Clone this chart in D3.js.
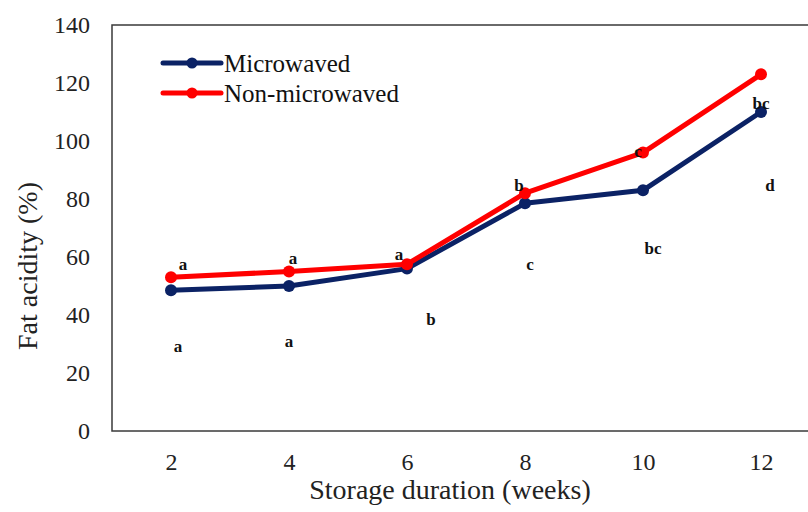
<!DOCTYPE html>
<html lang="en">
<head>
  <meta charset="UTF-8">
  <title>Fat acidity</title>
  <script src="https://d3js.org/d3.v7.min.js"></script>
  <style>
    body { margin: 0; background: #fff; }
    svg text { font-family: "Liberation Serif", "Times New Roman", Times, "DejaVu Serif", serif; }
  </style>
</head>
<body>
<div id="chart"></div>
<script>
const width = 808, height = 512;

const weeks = ["2", "4", "6", "8", "10", "12"];
const microwaved = [48.5, 50, 56, 78.5, 83, 110];
const nonMicrowaved = [53, 55, 57.5, 82, 96, 123];
const yTicks = [0, 20, 40, 60, 80, 100, 120, 140];

// significance letters and where they sit (in data units)
const lettersMicro = ["a", "a", "b", "c", "bc", "d"];
const lettersMicroY = [29, 31, 38.5, 57.5, 63, 84.5];
const lettersNon = ["a", "a", "a", "b", "c", "bc"];
const lettersNonY = [57.5, 59.3, 60.7, 84.5, 96.5, 113];

const series = [
  { name: "Microwaved", values: microwaved, color: "#0b2265" },
  { name: "Non-microwaved", values: nonMicrowaved, color: "#ff0000" }
];

const serif = '"Liberation Serif", "Times New Roman", Times, "DejaVu Serif", serif';
const margin = { top: 25, left: 112, bottom: 81 };
const plotRight = 820;

const svg = d3.select("#chart")
  .append("svg")
  .attr("width", width)
  .attr("height", height)
  .attr("font-family", serif);

const x = d3.scalePoint()
  .domain(weeks)
  .range([margin.left, plotRight])
  .padding(0.5);

const y = d3.scaleLinear()
  .domain([0, 140])
  .range([height - margin.bottom, margin.top]);

// plot frame
svg.append("rect")
  .attr("x", margin.left)
  .attr("y", margin.top)
  .attr("width", plotRight - margin.left)
  .attr("height", y(0) - margin.top)
  .attr("fill", "none")
  .attr("stroke", "#3a3a3a")
  .attr("stroke-width", 1.5);

// axes
const yAxis = svg.append("g")
  .attr("transform", `translate(${margin.left},0)`)
  .call(d3.axisLeft(y).tickValues(yTicks).tickSize(0).tickPadding(22));
yAxis.select(".domain").remove();
yAxis.attr("font-family", serif).attr("font-size", 24);
yAxis.selectAll("text").attr("fill", "#222");

const xAxis = svg.append("g")
  .attr("transform", `translate(0,${y(0)})`)
  .call(d3.axisBottom(x).tickSize(0).tickPadding(22));
xAxis.select(".domain").remove();
xAxis.attr("font-family", serif).attr("font-size", 24);
xAxis.selectAll("text").attr("fill", "#222");

// axis titles
svg.append("text")
  .attr("x", 450)
  .attr("y", 499)
  .attr("text-anchor", "middle")
  .attr("font-size", 28)
  .attr("fill", "#222")
  .text("Storage duration (weeks)");

svg.append("text")
  .attr("transform", "translate(37,266) rotate(-90)")
  .attr("text-anchor", "middle")
  .attr("font-size", 28)
  .attr("fill", "#222")
  .text("Fat acidity (%)");

// lines
const line = d3.line()
  .x((d, i) => x(weeks[i]))
  .y(d => y(d));

series.forEach(s => {
  svg.append("path")
    .datum(s.values)
    .attr("fill", "none")
    .attr("stroke", s.color)
    .attr("stroke-width", 5)
    .attr("stroke-linejoin", "round")
    .attr("d", line);

  svg.selectAll(null)
    .data(s.values)
    .enter()
    .append("circle")
    .attr("cx", (d, i) => x(weeks[i]))
    .attr("cy", d => y(d))
    .attr("r", 6)
    .attr("fill", s.color);
});

// letters
const dxMicro = [7, 0, 24, 5, 10, 9];
const dxNon = [12, 4, -8, -6, -5, 0];

function drawLetters(letters, vals, dx) {
  svg.selectAll(null)
    .data(letters)
    .enter()
    .append("text")
    .attr("x", (d, i) => x(weeks[i]) + dx[i])
    .attr("y", (d, i) => y(vals[i]))
    .attr("dy", "0.32em")
    .attr("text-anchor", "middle")
    .attr("font-size", 17)
    .attr("font-weight", "bold")
    .attr("fill", "#111")
    .text(d => d);
}
drawLetters(lettersMicro, lettersMicroY, dxMicro);
drawLetters(lettersNon, lettersNonY, dxNon);

// legend
const legend = svg.append("g").attr("transform", "translate(163,63)");
series.forEach((s, i) => {
  const g = legend.append("g").attr("transform", `translate(0,${i * 30})`);
  g.append("line")
    .attr("x1", 0).attr("x2", 58)
    .attr("stroke", s.color)
    .attr("stroke-width", 5)
    .attr("stroke-linecap", "round");
  g.append("circle")
    .attr("cx", 29)
    .attr("r", 5.5)
    .attr("fill", s.color);
  g.append("text")
    .attr("x", 61)
    .attr("dy", "0.35em")
    .attr("font-size", 25)
    .attr("fill", "#111")
    .text(s.name);
});
</script>
</body>
</html>
